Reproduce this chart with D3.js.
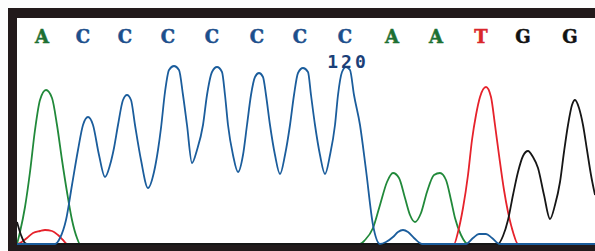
<!DOCTYPE html>
<html>
<head>
<meta charset="utf-8">
<script src="https://cdn.jsdelivr.net/npm/d3@7"></script>
<style>
  body { margin: 0; background: #fdfdfd; }
  svg { display: block; }
</style>
</head>
<body>
<svg width="595" height="251"></svg>
<script>
// base calls and where they sit (scan units)
const bases = ["A","C","C","C","C","C","C","C","A","A","T","G","G"];
const basePos = [25, 66, 108, 151, 195, 240, 283, 328, 375, 419, 464, 506, 553];
const tickLabel = "120";
const tickPos = 331;

// trace samples [scan, signal]
const traceA = [[0,0],[3,12],[8,37],[13,72],[18,114],[23,144],[29,154],[35,146],[40,119],[45,84],[50,52],[55,24],[60,6],[63,0],
  [343,0],[348,4],[356,16],[363,39],[370,62],[376,71],[382,66],[388,46],[393,29],[398,22],[404,31],[410,52],[417,69],[423,71],
  [429,64],[434,44],[438,26],[444,9],[451,0],[578,0]];
const traceC = [[0,0],[38,0],[43,6],[49,24],[55,59],[61,94],[66,119],[71,127],[76,119],[82,89],[88,67],[93,79],[97,96],[101,119],
  [106,144],[110,149],[114,144],[118,119],[124,84],[131,56],[137,72],[141,94],[144,116],[148,152],[152,174],[157,178],[162,174],
  [166,149],[170,119],[175,81],[180,94],[186,119],[190,149],[195,172],[200,177],[205,172],[208,149],[211,119],[216,89],[221,72],
  [226,89],[230,119],[234,149],[238,167],[242,171],[246,167],[249,149],[253,119],[258,89],[263,70],[268,89],[273,119],[277,149],
  [281,171],[286,176],[291,172],[294,149],[298,119],[303,89],[308,70],[313,89],[318,119],[321,149],[325,172],[329,177],[333,174],
  [337,149],[343,119],[349,74],[356,19],[363,0],[369,2],[376,7],[381,12],[386,14],[391,12],[397,6],[405,0],[449,0],[456,6],
  [462,10],[469,10],[475,6],[483,0],[578,0]];
const traceT = [[0,0],[3,1],[10,6],[16,11],[23,13],[28,14],[35,13],[41,9],[46,4],[50,0],[437,0],[441,12],[446,36],[451,69],
  [455,104],[459,129],[463,147],[469,157],[474,147],[478,119],[482,89],[487,54],[491,32],[496,12],[501,0],[578,0]];
const traceG = [[0,22],[4,9],[8,1],[11,0],[481,0],[486,8],[491,24],[496,49],[501,72],[506,88],[511,93],[516,87],[521,76],
  [527,49],[533,25],[538,39],[543,62],[547,92],[551,119],[555,139],[558,144],[562,136],[566,119],[570,94],[574,69],[578,49]];

const baseColor = { A: "#1d7033", C: "#1c4f8c", T: "#d9262b", G: "#121212" };
const traceColor = { A: "#21893a", C: "#1b5d9c", T: "#e6222b", G: "#161616" };

let svg = d3.select("svg");

let x = d3.scaleLinear().domain([0, 578]).range([17, 595]);
let y = d3.scaleLinear().domain([0, 226]).range([244, 18]);

// frame
svg.append("rect").attr("x", 8).attr("y", 8).attr("width", 600).attr("height", 260).attr("fill", "#221a1b");
svg.append("rect").attr("x", 17).attr("y", 18).attr("width", 590).attr("height", 227).attr("fill", "#ffffff");

svg.append("clipPath").attr("id", "inner")
  .append("rect").attr("x", 17).attr("y", 18).attr("width", 590).attr("height", 227);

let line = d3.line()
  .x(d => x(d[0]))
  .y(d => y(d[1]))
  .curve(d3.curveMonotoneX);

let traces = [["A", traceA], ["T", traceT], ["G", traceG], ["C", traceC]];
svg.append("g").attr("clip-path", "url(#inner)")
  .selectAll("path")
  .data(traces)
  .enter()
  .append("path")
    .attr("d", d => line(d[1]))
    .attr("fill", "none")
    .attr("stroke", d => traceColor[d[0]])
    .attr("stroke-width", 1.8)
    .attr("stroke-linejoin", "round");

// base letters
svg.append("g")
  .selectAll("text")
  .data(bases)
  .enter()
  .append("text")
    .attr("x", (d, i) => x(basePos[i]))
    .attr("y", 43)
    .attr("text-anchor", "middle")
    .attr("font-family", "DejaVu Serif")
    .attr("font-weight", "bold")
    .attr("font-size", 18)
    .attr("fill", d => baseColor[d])
    .attr("stroke", d => baseColor[d])
    .attr("stroke-width", 0.5)
    .text(d => d);

svg.append("text")
  .attr("x", x(tickPos))
  .attr("y", 68)
  .attr("text-anchor", "middle")
  .attr("font-family", "DejaVu Sans Mono")
  .attr("font-weight", "bold")
  .attr("font-size", 18)
  .attr("letter-spacing", 3)
  .attr("fill", "#1b3f78")
  .text(tickLabel);
</script>
</body>
</html>
